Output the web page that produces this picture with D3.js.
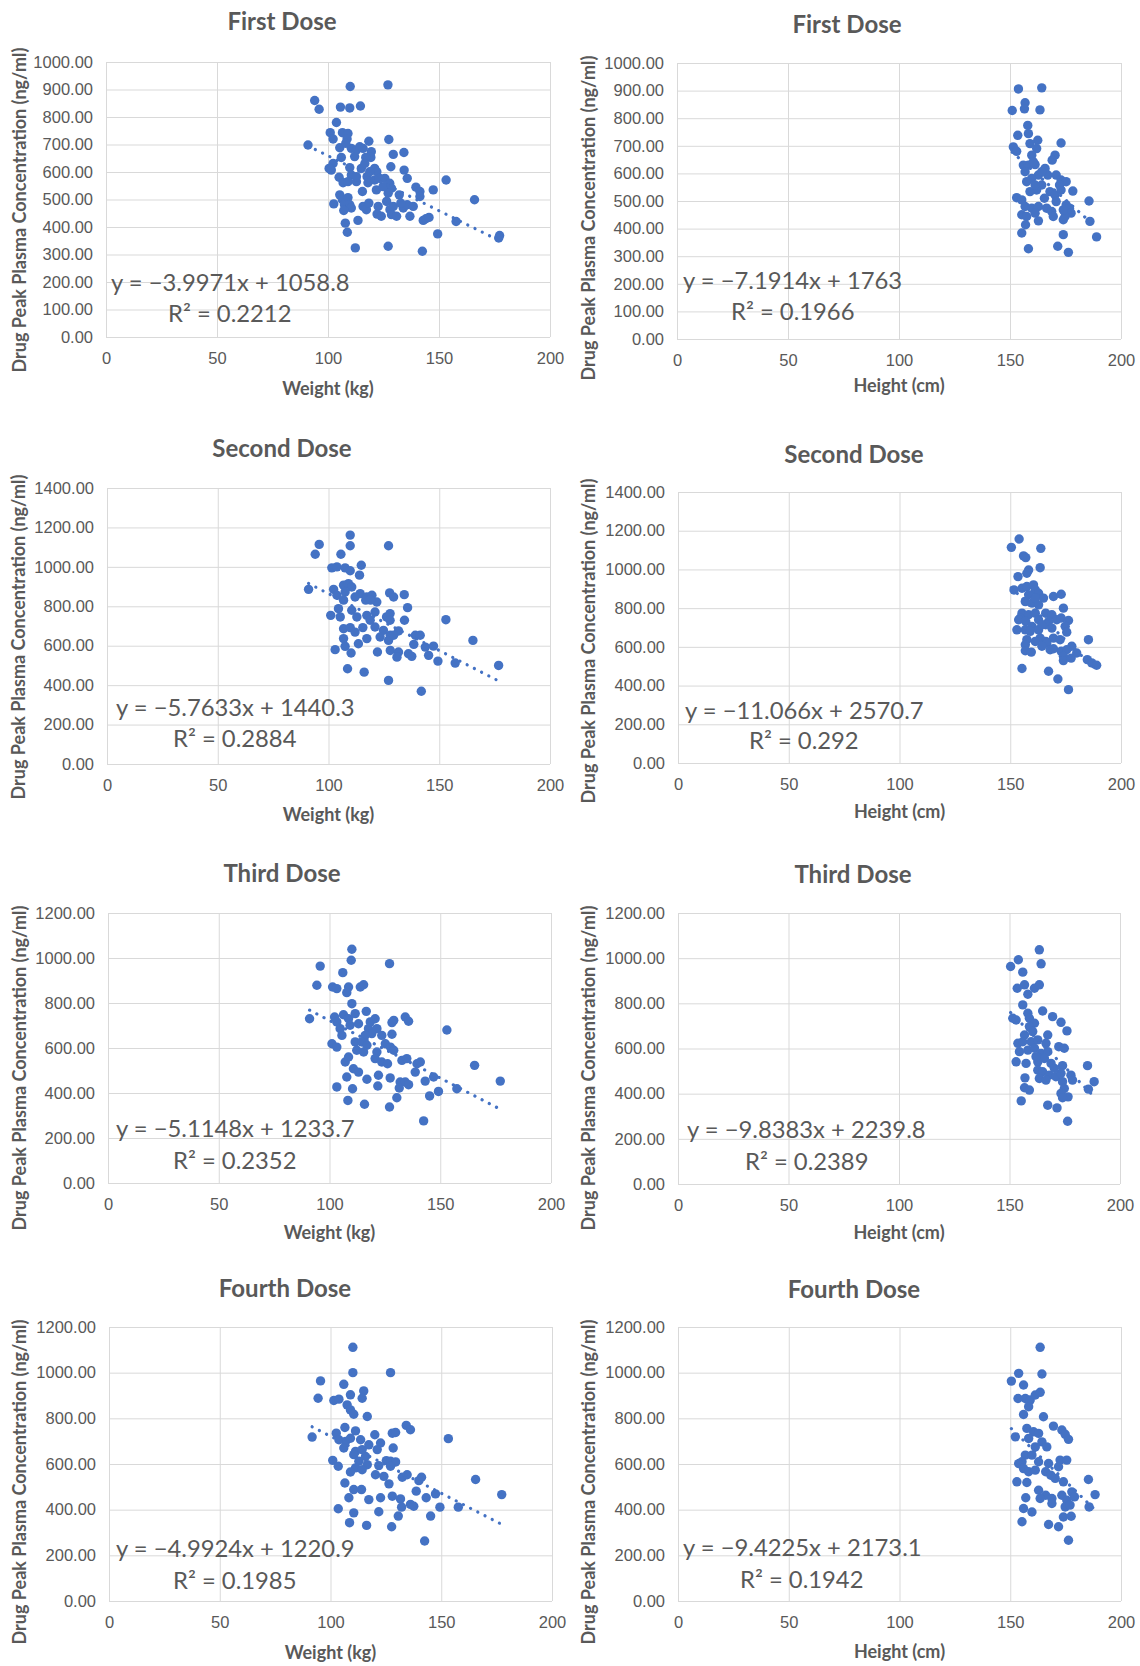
<!DOCTYPE html>
<html lang="en">
<head>
<meta charset="UTF-8">
<title>Drug Peak Plasma Concentration vs Weight and Height</title>
<script src="https://d3js.org/d3.v7.min.js"></script>
<style>
  body { margin: 0; background: #fff; }
  svg { display: block; font-family: Lato, "Open Sans", sans-serif; }
  .grid line { stroke: #d9d9d9; stroke-width: 1; }
  .grid .tick text { fill: #595959; font-size: 16.5px; }
  .title { fill: #595959; font-weight: bold; font-size: 24px; }
  .axis-title { fill: #595959; font-weight: bold; font-size: 18px; }
  .eq { fill: #595959; font-size: 23.8px; }
</style>
</head>
<body>
<svg id="chart" width="1140" height="1666"></svg>
<script>
// titres et graduations
const doseTitles = ["First Dose", "Second Dose", "Third Dose", "Fourth Dose"];
const xTitles = ["Weight (kg)", "Height (cm)"];
const yTitle = "Drug Peak Plasma Concentration (ng/ml)";
const xTicks = [0, 50, 100, 150, 200];
const yMax = [1000, 1400, 1200, 1200];
const yStep = [100, 200, 200, 200];

// points : [poids ou taille, concentration]
const weightDose1 = [[110,911],[127,917],[94,860],[96,828],[105.6,836],[109.8,833],[114.6,840],[103.8,780],[101,743],[102.3,720],[106.5,743],[109,740],[108.6,720],[91,698],[118.4,712],[127.4,718],[105.3,688],[110.5,686],[112.8,680],[114.3,692],[119.5,674],[119.3,653],[117,653],[129.4,664],[134.2,671],[106,653],[102.3,631],[101.5,607],[100.5,613],[109.8,616],[110.5,589],[115,613],[116.6,631],[121,613],[122,601],[128.3,619],[134.3,607],[135.7,577],[105,581],[106.8,561],[109,565],[112.8,565],[117.6,583],[118,561],[118.8,601],[123.3,577],[125.6,577],[127.8,559],[128.6,541],[121.8,535],[115.5,529],[127.1,523],[132.1,517],[139.6,545],[141.4,529],[147.4,535],[153.2,571],[105.3,517],[106.5,499],[109,507],[102.6,484],[107.4,481],[109.8,481],[110.5,469],[107.1,460],[115.8,475],[117.3,463],[122.6,475],[122.1,447],[126.4,493],[127.9,463],[129.4,475],[128.6,445],[130.9,439],[133.9,469],[135.7,481],[138.4,475],[132.8,487],[113.5,424],[107.8,414],[108.7,381],[142.9,424],[144.1,430],[145.5,435],[157.7,420],[149.4,375],[166,499],[177.3,369],[176.9,360],[112.3,324],[127.1,330],[142.5,312],[112.8,583],[121,571],[124.8,547],[112,656],[115.8,686],[108,704],[118.4,487],[124,439],[136.9,439],[141.4,511]];
const heightDose1 = [[153.8,906],[164.3,910],[156.8,856],[156.5,834],[151,828],[163.5,830],[158,774],[153.5,738],[158.3,744],[151.5,696],[153,680],[173,710],[162.5,720],[159,708],[162,690],[159.8,666],[170.3,666],[169,648],[156,630],[158.3,630],[161.3,632],[165.8,618],[156.8,606],[162.8,594],[159.8,582],[157.5,570],[167,594],[170.8,594],[173,576],[175.3,570],[164.3,558],[162,540],[159,534],[168,534],[170.3,522],[173,540],[178.3,536],[153,512],[155.3,504],[170.8,498],[185.6,500],[156.8,480],[159.8,474],[162.8,480],[166.5,474],[168.8,462],[175.3,486],[176.8,474],[177.5,456],[155.3,450],[157.5,444],[162.8,428],[169.5,444],[174,432],[174.8,444],[186,426],[157,414],[155.3,384],[174,378],[189,370],[158.3,327],[171.5,336],[176.3,314],[160.5,642],[164.3,606],[161.3,558],[172.3,558],[165.5,510],[174,468],[161.3,456]];
const weightDose2 = [[109.8,1161],[109.8,1107],[127.1,1107],[95.8,1114],[94,1064],[105.6,1064],[114.8,1008],[101.5,995],[103.8,1000],[107.5,995],[109.8,980],[114,958],[91,886],[102.3,886],[106.8,907],[109,915],[110.5,898],[103.8,856],[107.5,873],[114.3,864],[117.3,847],[119.6,856],[121.8,822],[127.6,868],[129.4,847],[134.2,859],[135.7,793],[116.8,831],[119,831],[104.5,788],[101,754],[105.3,746],[110.5,780],[112.8,746],[117.3,754],[121,771],[126.2,746],[127.8,763],[127.8,729],[134.3,729],[153,732],[106.8,686],[109.8,692],[112,669],[115.5,692],[121,695],[124.8,678],[123.3,644],[127.9,653],[131.6,675],[106.8,636],[107.5,597],[113.5,610],[117.3,636],[127.1,627],[129.4,653],[139.2,653],[141.4,653],[138.5,607],[103,580],[110.2,563],[122.1,568],[127.9,576],[131.6,568],[130.9,542],[136.1,559],[137.6,546],[143.7,593],[147.4,598],[145.2,551],[149.4,522],[157.2,512],[165.2,627],[176.8,500],[108.6,483],[116.1,466],[127.1,424],[141.9,369],[106.8,831],[112,847],[118.8,729]];
const heightDose2 = [[154,1157],[150.5,1114],[163.8,1109],[156,1070],[157,1061],[163.5,1009],[158.3,997],[157.5,980],[153.5,963],[151.7,894],[155.3,903],[157.5,912],[160.5,920],[161.3,894],[158.3,869],[162.8,877],[165,852],[169.5,860],[173,872],[156.8,834],[159.8,826],[162.8,817],[174,800],[155.3,774],[158.3,766],[161.3,774],[166,774],[168.8,766],[154.5,749],[153.8,740],[157,731],[162.8,740],[167.3,731],[171,740],[173,749],[176.3,736],[166,714],[159.8,706],[153,688],[156.8,688],[159,680],[162.8,688],[168.8,697],[174.8,706],[175.5,676],[157.5,637],[163.5,645],[166,628],[169.5,645],[172.5,637],[185.3,637],[156.8,611],[166.5,620],[168,585],[156.8,580],[159.5,573],[169.5,590],[173,577],[177.8,603],[175.5,585],[180,568],[174,551],[174,529],[177.5,542],[184.8,534],[186.8,517],[189,505],[155.3,488],[167.3,474],[171.5,434],[176.3,379],[161.3,851],[164.3,714],[161.3,628],[164.3,603]];
const weightDose3 = [[110.1,1039],[109.8,990],[127.1,975],[95.8,964],[106,935],[94.3,879],[101.4,871],[103.3,864],[108.6,871],[107.8,846],[113.9,871],[115.4,881],[110.1,797],[91,730],[102.3,738],[103.3,716],[106.3,748],[108.6,730],[111.6,753],[116.6,763],[120.6,730],[128.2,713],[129,723],[134.2,738],[135.7,719],[153,680],[104.8,686],[109.3,701],[113.1,708],[117.6,686],[121.4,686],[119.1,664],[116.1,656],[128.2,661],[105.6,656],[101.1,619],[103.3,604],[111.6,627],[114.6,627],[116.9,612],[125.2,619],[127.5,604],[129,590],[112.3,590],[115.4,582],[121.4,582],[120.6,553],[123.6,538],[126.2,530],[107.1,538],[108.6,560],[132.7,545],[134.9,553],[139.5,530],[141,538],[138.7,493],[110.8,508],[113.1,493],[107.8,471],[116.9,461],[122.1,479],[127.4,467],[131.9,449],[134.2,449],[135.7,437],[143.2,453],[147,471],[121.8,431],[131.5,422],[103.3,427],[110.4,419],[149.2,407],[157.5,419],[165.5,523],[177.1,453],[145.2,387],[130.4,379],[108.3,367],[115.8,350],[127.1,338],[142.5,276],[118.4,716],[123.6,656]];
const heightDose3 = [[163.5,1037],[154,993],[150.5,963],[164.3,975],[156,938],[153.5,867],[156.8,882],[158.3,840],[161.3,867],[163.5,882],[156,793],[151.5,734],[153,726],[158.3,756],[159,734],[165,766],[169.5,741],[173.3,716],[176,678],[161.3,712],[159,697],[167.3,660],[156.8,660],[153.8,623],[156,630],[159.8,630],[162.8,638],[166.5,623],[172.3,608],[174.8,601],[154.5,586],[158.3,593],[161.3,601],[164.3,578],[167.3,586],[153,541],[157.5,534],[162.8,541],[165.8,556],[168.8,534],[174,524],[185.3,524],[162.8,504],[165,497],[168,482],[171,475],[173.3,490],[177.8,482],[157,470],[163.5,467],[166.5,460],[174,453],[178.5,460],[188.3,453],[185.7,420],[156.8,426],[159,416],[174.8,423],[173.3,401],[176.5,386],[174,382],[155.3,368],[167.3,349],[171.5,337],[176.3,278],[160.5,675],[162,564],[170.3,512]];
const weightDose4 = [[110.1,1111],[110.1,1000],[127.1,1000],[95.5,964],[94.4,888],[106,949],[109,903],[115,920],[114.3,888],[101.5,878],[103.8,884],[107.5,859],[109,837],[110.5,818],[116.6,808],[91.7,718],[102.6,735],[106.5,760],[111.3,745],[103.8,706],[106.8,699],[109,713],[113.6,706],[120,728],[122.6,692],[127.9,735],[129.4,738],[134.2,769],[136.1,750],[153.2,711],[106,670],[111.3,655],[114.3,663],[117.3,684],[121.1,663],[128.3,670],[110.5,641],[115.8,633],[101,616],[103.5,590],[112.8,612],[116.6,597],[111.3,583],[114.3,575],[109,565],[120.3,553],[124.1,546],[125.2,615],[127.1,612],[129.4,609],[127.1,590],[121.8,593],[132.4,542],[134.6,553],[139.9,527],[141.1,542],[126.4,513],[106.5,517],[110.5,488],[114,488],[138.7,481],[143.2,452],[147.4,469],[165.5,532],[177.3,466],[108.3,452],[117.3,444],[122.6,452],[127.9,459],[131.6,447],[136.1,423],[137.6,415],[132.1,411],[149.4,411],[157.7,411],[103.5,404],[110.5,386],[121.8,391],[130.6,372],[145.2,372],[108.6,343],[116.3,331],[127.6,325],[142.5,263]];
const heightDose4 = [[163.5,1111],[164.3,994],[153.8,997],[150.5,963],[156,946],[153.5,887],[156.8,887],[159,880],[161.3,902],[163.5,914],[158.3,851],[156,817],[165,807],[169.5,766],[173.3,749],[174.8,730],[176.3,708],[152.3,719],[157.5,756],[160.5,741],[162.8,734],[158.3,712],[164.3,697],[166.5,675],[161.3,675],[156.8,639],[159.8,639],[155.3,610],[153.8,602],[162.8,610],[167.3,602],[172.5,617],[175.5,617],[171.8,588],[156,580],[158.3,566],[161.3,573],[166,566],[168.3,551],[170.3,537],[174,522],[153,522],[157.5,519],[185.3,532],[188.3,466],[162.8,485],[166,463],[163.5,449],[168.8,449],[173.3,463],[177.8,478],[175.5,442],[179,456],[168.8,427],[174.8,412],[177,420],[185.6,412],[157,452],[156,405],[159.8,390],[174,368],[177.5,371],[155.3,347],[167.3,335],[171.8,325],[176.3,266]];

// courbes de tendance linéaires (affichées sur la figure)
const trendSlope = [-3.9971, -7.1914, -5.7633, -11.066, -5.1148, -9.8383, -4.9924, -9.4225];
const trendIntercept = [1058.8, 1763, 1440.3, 2570.7, 1233.7, 2239.8, 1220.9, 2173.1];
const eqLabels = ["y = −3.9971x + 1058.8", "y = −7.1914x + 1763", "y = −5.7633x + 1440.3", "y = −11.066x + 2570.7",
                  "y = −5.1148x + 1233.7", "y = −9.8383x + 2239.8", "y = −4.9924x + 1220.9", "y = −9.4225x + 2173.1"];
const r2Labels = ["R² = 0.2212", "R² = 0.1966", "R² = 0.2884", "R² = 0.292",
                  "R² = 0.2352", "R² = 0.2389", "R² = 0.1985", "R² = 0.1942"];

const series = [weightDose1, heightDose1, weightDose2, heightDose2, weightDose3, heightDose3, weightDose4, heightDose4];

// position des 8 graphiques
const panels = [
    { left: 106, right: 550, top: 62, bottom: 337, title: [282, 30], eq: [111, 291], r2: [168, 322], ylab: [26, 210], xlabY: 395 },
    { left: 677, right: 1121, top: 63, bottom: 339, title: [847, 33], eq: [683, 289], r2: [731, 320], ylab: [595, 218], xlabY: 392 },
    { left: 107, right: 550, top: 488, bottom: 764, title: [282, 457], eq: [116, 716], r2: [173, 747], ylab: [25, 637], xlabY: 821 },
    { left: 678, right: 1121, top: 492, bottom: 763, title: [854, 463], eq: [685, 719], r2: [749, 749], ylab: [595, 641], xlabY: 818 },
    { left: 108, right: 551, top: 913, bottom: 1183, title: [282, 882], eq: [116, 1137], r2: [173, 1169], ylab: [26, 1068], xlabY: 1239 },
    { left: 678, right: 1120, top: 913, bottom: 1184, title: [853, 883], eq: [687, 1138], r2: [745, 1170], ylab: [595, 1068], xlabY: 1239 },
    { left: 109, right: 552, top: 1327, bottom: 1601, title: [285, 1297], eq: [116, 1557], r2: [173, 1589], ylab: [26, 1482], xlabY: 1659 },
    { left: 678, right: 1121, top: 1327, bottom: 1601, title: [854, 1298], eq: [683, 1556], r2: [740, 1588], ylab: [595, 1482], xlabY: 1658 }
];

const svg = d3.select("#chart");
const blue = "#4472c4";

panels.forEach((p, i) => {
    const dose = Math.floor(i / 2);
    const data = series[i];
    const w = p.right - p.left, h = p.bottom - p.top;

    const x = d3.scaleLinear().domain([0, 200]).range([p.left, p.right]);
    const y = d3.scaleLinear().domain([0, yMax[dose]]).range([p.bottom, p.top]);

    // grille + graduations
    svg.append("g")
        .attr("class", "grid")
        .attr("transform", `translate(0,${p.bottom})`)
        .call(d3.axisBottom(x).tickValues(xTicks).tickSizeInner(-h).tickSizeOuter(0).tickPadding(15))
        .call(g => g.select(".domain").remove());

    svg.append("g")
        .attr("class", "grid")
        .attr("transform", `translate(${p.left},0)`)
        .call(d3.axisLeft(y).tickValues(d3.range(0, yMax[dose] + 1, yStep[dose]))
            .tickFormat(d3.format(".2f")).tickSizeInner(-w).tickSizeOuter(0).tickPadding(13))
        .call(g => g.select(".domain").remove());

    // points
    svg.append("g")
        .selectAll("circle")
        .data(data)
        .enter()
        .append("circle")
        .attr("cx", d => x(d[0]))
        .attr("cy", d => y(d[1]))
        .attr("r", 4.7)
        .attr("fill", blue);

    // tendance en pointillés
    const ext = d3.extent(data, d => d[0]);
    svg.append("line")
        .attr("x1", x(ext[0])).attr("y1", y(trendSlope[i] * ext[0] + trendIntercept[i]))
        .attr("x2", x(ext[1])).attr("y2", y(trendSlope[i] * ext[1] + trendIntercept[i]))
        .attr("stroke", blue)
        .attr("stroke-width", 3.2)
        .attr("stroke-linecap", "round")
        .attr("stroke-dasharray", "0.1 8");

    // textes
    svg.append("text").attr("class", "title")
        .attr("x", p.title[0]).attr("y", p.title[1])
        .attr("text-anchor", "middle").text(doseTitles[dose]);

    svg.append("text").attr("class", "axis-title")
        .attr("x", (p.left + p.right) / 2).attr("y", p.xlabY)
        .attr("text-anchor", "middle").text(xTitles[i % 2]);

    svg.append("text").attr("class", "axis-title")
        .attr("transform", `translate(${p.ylab[0]},${p.ylab[1]}) rotate(-90)`)
        .attr("text-anchor", "middle").text(yTitle);

    svg.append("text").attr("class", "eq")
        .attr("x", p.eq[0]).attr("y", p.eq[1]).text(eqLabels[i]);
    svg.append("text").attr("class", "eq")
        .attr("x", p.r2[0]).attr("y", p.r2[1]).text(r2Labels[i]);
});
</script>
</body>
</html>
